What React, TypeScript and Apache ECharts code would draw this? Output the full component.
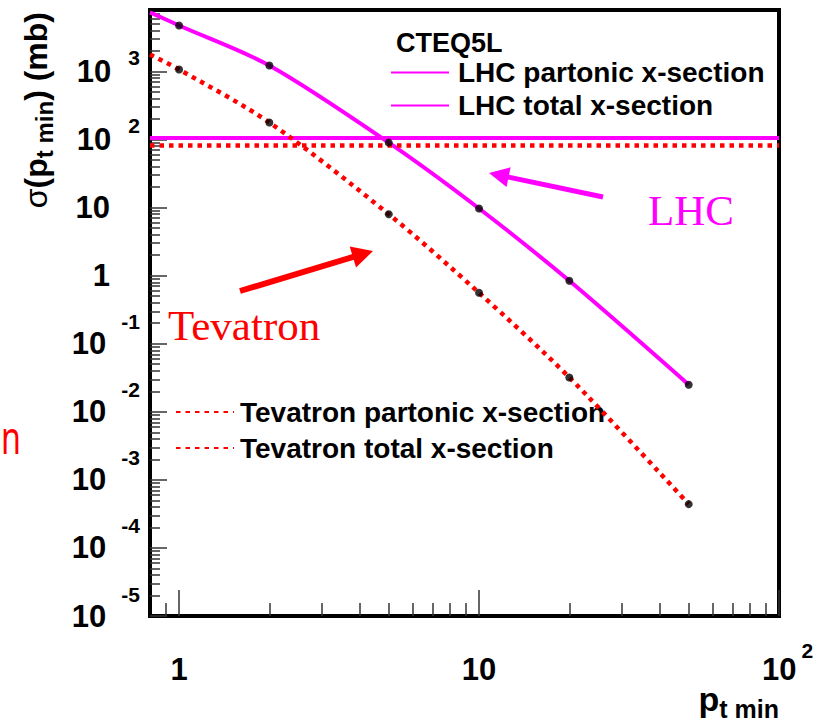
import React, { useEffect, useRef } from "react";
import * as echarts from "echarts";

// ---- data ----
const ptMin = [1, 2, 5, 10, 20, 50];
const lhcPartonic = [4740, 1225, 90, 9.7, 0.84, 0.025];
const tevatronPartonic = [1070, 178, 8, 0.56, 0.032, 0.00044];
const curveStartPt = 0.8;
const lhcPartonicAtStart = 7400;
const tevatronPartonicAtStart = 1780;
const totalRangePt = [0.8, 100];
const lhcTotal = 105;
const tevatronTotal = 82;

const xRange = [0.8, 100];
const yRange = [1e-5, 8000];
const xMajorTicks = [1, 10, 100];
const xMinorTicks = [0.9, 2, 3, 4, 5, 6, 7, 8, 9, 20, 30, 40, 50, 60, 70, 80, 90];
const yMajorTicks = [1e-5, 1e-4, 1e-3, 1e-2, 1e-1, 1, 10, 100, 1000];
const minorMultipliers = [2, 3, 4, 5, 6, 7, 8, 9];

const LHC_PARTONIC = "LHC partonic x-section";
const LHC_TOTAL = "LHC total x-section";
const TEV_PARTONIC = "Tevatron partonic x-section";
const TEV_TOTAL = "Tevatron total x-section";

const MAG = "#ff00ff";
const RED = "#ff0000";
const SANS = "Liberation Sans";
const SERIF = "Liberation Serif";

const yMinorTicks: number[] = [];
yMajorTicks.forEach((d) =>
  minorMultipliers.forEach((m) => {
    const v = d * m;
    if (v < yRange[1]) yMinorTicks.push(v);
  })
);

function arrow(
  x1: number, y1: number, x2: number, y2: number,
  color: string, width: number, headLen: number, headHalf: number
) {
  const dx = x2 - x1, dy = y2 - y1;
  const L = Math.hypot(dx, dy);
  const ux = dx / L, uy = dy / L;
  const bx = x2 - ux * headLen, by = y2 - uy * headLen;
  const nx = -uy, ny = ux;
  return [
    {
      type: "line",
      shape: { x1, y1, x2: bx + ux * 2, y2: by + uy * 2 },
      style: { stroke: color, lineWidth: width },
    },
    {
      type: "polygon",
      shape: {
        points: [
          [x2, y2],
          [bx + nx * headHalf, by + ny * headHalf],
          [bx - nx * headHalf, by - ny * headHalf],
        ],
      },
      style: { fill: color },
    },
  ];
}

export default function App() {
  const ref = useRef<HTMLDivElement>(null);
  useEffect(() => {
    if (!ref.current) return;
    const chart = echarts.init(ref.current, undefined, { renderer: "svg" });

    const lhcCurve = [[curveStartPt, lhcPartonicAtStart], ...ptMin.map((x, i) => [x, lhcPartonic[i]])];
    const tevCurve = [[curveStartPt, tevatronPartonicAtStart], ...ptMin.map((x, i) => [x, tevatronPartonic[i]])];
    const dots = [
      ...ptMin.map((x, i) => [x, lhcPartonic[i]]),
      ...ptMin.map((x, i) => [x, tevatronPartonic[i]]),
    ];

    const baseTick = { show: true, inside: true, lineStyle: { color: "#333", width: 1.5 } };
    const dotted = { color: RED, width: 4.5, type: [4.5, 5], cap: "butt" };

    const option: any = {
      animation: false,
      backgroundColor: "#fff",
      textStyle: { fontFamily: SANS },
      title: {
        text: "CTEQ5L",
        left: 396,
        top: 29,
        padding: 0,
        textStyle: { fontSize: 27, fontWeight: "bold", color: "#000", fontFamily: SANS, lineHeight: 27 },
      },
      grid: {
        left: 150,
        top: 10,
        width: 629,
        height: 606,
        show: true,
        borderColor: "#000",
        borderWidth: 4,
        backgroundColor: "transparent",
      },
      legend: [
        {
          data: [LHC_PARTONIC, LHC_TOTAL],
          orient: "vertical",
          left: 390,
          top: 56,
          padding: 0,
          itemGap: 0,
          itemWidth: 58,
          itemHeight: 14,
          selectedMode: false,
          z: 1,
          itemStyle: { opacity: 0 },
          textStyle: {
            fontSize: 28, fontWeight: "bold", color: "#000", fontFamily: SANS,
            lineHeight: 33, padding: [0, 0, 0, 4],
          },
        },
        {
          data: [TEV_PARTONIC, TEV_TOTAL],
          orient: "vertical",
          left: 175,
          top: 394,
          padding: 0,
          itemGap: 0,
          itemWidth: 58,
          itemHeight: 14,
          selectedMode: false,
          z: 1,
          itemStyle: { opacity: 0 },
          textStyle: {
            fontSize: 28, fontWeight: "bold", color: "#000", fontFamily: SANS,
            lineHeight: 36, padding: [0, 0, 0, 1],
          },
        },
      ],
      xAxis: [
        {
          type: "log",
          logBase: 10,
          min: xRange[0],
          max: xRange[1],
          position: "bottom",
          axisLine: { show: false },
          splitLine: { show: false },
          axisTick: { ...baseTick, length: 26, customValues: xMajorTicks },
          axisLabel: {
            customValues: xMajorTicks,
            margin: 28,
            color: "#000",
            formatter: (v: number) => {
              const e = Math.round(Math.log10(v));
              if (e === 0) return "{c|1}";
              if (e === 1) return "{c|10}";
              return `{bx|10}{ex|${e}}`;
            },
            rich: {
              c: { fontSize: 31, fontWeight: "bold", lineHeight: 31, padding: [19, 0, 0, 0], fontFamily: SANS, color: "#000" },
              bx: { fontSize: 31, fontWeight: "bold", lineHeight: 31, padding: [19, 0, 0, 17], fontFamily: SANS, color: "#000" },
              ex: { fontSize: 21, fontWeight: "bold", lineHeight: 21, padding: [5, 0, 24, 5], fontFamily: SANS, color: "#000" },
            },
          },
        },
        {
          type: "log",
          logBase: 10,
          min: xRange[0],
          max: xRange[1],
          position: "bottom",
          axisLine: { show: false },
          splitLine: { show: false },
          axisTick: { ...baseTick, length: 13, customValues: xMinorTicks },
          axisLabel: { show: false },
        },
      ],
      yAxis: [
        {
          type: "log",
          logBase: 10,
          min: yRange[0],
          max: yRange[1],
          position: "left",
          axisLine: { show: false },
          splitLine: { show: false },
          axisTick: { ...baseTick, length: 17, customValues: yMajorTicks },
          axisLabel: {
            customValues: yMajorTicks,
            margin: 10,
            color: "#000",
            formatter: (v: number) => {
              const e = Math.round(Math.log10(v));
              if (e === 0) return "{p|1}";
              if (e === 1) return "{p|10}";
              return e > 0 ? `{b|10}{e|${e}}` : `{bn|10}{en|${e}}`;
            },
            rich: {
              p: { fontSize: 31, fontWeight: "bold", lineHeight: 31, padding: [0, 30, 0, 0], fontFamily: SANS, color: "#000" },
              b: { fontSize: 31, fontWeight: "bold", lineHeight: 31, padding: [9, 0, 9, 0], fontFamily: SANS, color: "#000" },
              e: { fontSize: 21, fontWeight: "bold", lineHeight: 21, padding: [0, 0, 28, 17], fontFamily: SANS, color: "#000" },
              bn: { fontSize: 31, fontWeight: "bold", lineHeight: 31, padding: [17, 0, 17, 0], fontFamily: SANS, color: "#000" },
              en: { fontSize: 21, fontWeight: "bold", lineHeight: 21, padding: [0, 0, 44, 15], fontFamily: SANS, color: "#000" },
            },
          },
        },
        {
          type: "log",
          logBase: 10,
          min: yRange[0],
          max: yRange[1],
          position: "left",
          axisLine: { show: false },
          splitLine: { show: false },
          axisTick: { ...baseTick, length: 10, customValues: yMinorTicks },
          axisLabel: { show: false },
        },
      ],
      series: [
        {
          name: LHC_PARTONIC,
          type: "line",
          data: lhcCurve,
          smooth: 0.3,
          symbol: "none",
          lineStyle: { color: MAG, width: 4 },
          itemStyle: { color: MAG },
          z: 3,
        },
        {
          name: LHC_TOTAL,
          type: "line",
          data: totalRangePt.map((x) => [x, lhcTotal]),
          symbol: "none",
          lineStyle: { color: MAG, width: 4 },
          itemStyle: { color: MAG },
          z: 3,
        },
        {
          name: TEV_PARTONIC,
          type: "line",
          data: tevCurve,
          smooth: 0.3,
          symbol: "none",
          lineStyle: dotted,
          itemStyle: { color: RED },
          z: 3,
        },
        {
          name: TEV_TOTAL,
          type: "line",
          data: totalRangePt.map((x) => [x, tevatronTotal]),
          symbol: "none",
          lineStyle: dotted,
          itemStyle: { color: RED },
          z: 3,
        },
        {
          name: "points",
          type: "scatter",
          data: dots,
          symbol: "circle",
          symbolSize: 8,
          itemStyle: { color: "#000" },
          z: 5,
        },
      ],
      graphic: [
        {
          type: "text",
          x: 25,
          y: 12,
          rotation: Math.PI / 2,
          style: {
            text: "{g|σ}{m|(p}{s|t min}{m|) (mb)}",
            align: "right",
            verticalAlign: "top",
            rich: {
              g: { fontSize: 32, fontWeight: "normal", lineHeight: 32, padding: [0, 0, 10, 0], fontFamily: SANS, fill: "#000" },
              m: { fontSize: 32, fontWeight: "bold", lineHeight: 32, padding: [0, 0, 10, 0], fontFamily: SANS, fill: "#000" },
              s: { fontSize: 24, fontWeight: "bold", lineHeight: 24, padding: [12, 0, 6, 0], fontFamily: SANS, fill: "#000" },
            },
          },
        },
        {
          type: "text",
          x: 779,
          y: 687,
          style: {
            text: "{p|p}{s|t min}",
            align: "right",
            verticalAlign: "top",
            rich: {
              p: { fontSize: 34, fontWeight: "bold", lineHeight: 34, padding: [0, 0, 10, 0], fontFamily: SANS, fill: "#000" },
              s: { fontSize: 25, fontWeight: "bold", lineHeight: 25, padding: [14, 0, 5, 0], fontFamily: SANS, fill: "#000" },
            },
          },
        },
        {
          type: "text",
          x: 648,
          y: 210,
          style: { text: "LHC", fontSize: 43, fontFamily: SERIF, fill: MAG, align: "left", verticalAlign: "middle" },
        },
        {
          type: "text",
          x: 168,
          y: 325,
          style: { text: "Tevatron", fontSize: 43, fontFamily: SERIF, fill: RED, align: "left", verticalAlign: "middle" },
        },
        {
          type: "text",
          x: 1,
          y: 437,
          scaleX: 0.7,
          style: { text: "n", fontSize: 46, fontFamily: "Noto Sans", fill: RED, align: "left", verticalAlign: "middle" },
        },
        ...arrow(603, 197, 489, 173, MAG, 5, 20, 10),
        ...arrow(240, 291, 373, 251, RED, 6, 21, 11),
      ],
    };

    chart.setOption(option);
    return () => chart.dispose();
  }, []);

  return (
    <div
      ref={ref}
      style={{ position: "fixed", left: 0, top: 0, width: 829, height: 727, background: "#fff" }}
    />
  );
}
